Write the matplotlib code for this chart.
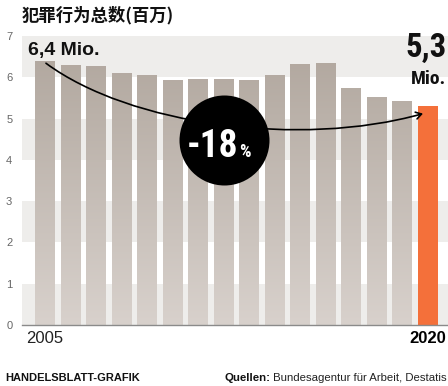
import numpy as np
import matplotlib
matplotlib.use("Agg")
import matplotlib.pyplot as plt
from matplotlib.path import Path
from matplotlib.patches import FancyArrowPatch
from matplotlib.colors import LinearSegmentedColormap

# ---- data ----
years = list(range(2005, 2021))
values = [6.39, 6.30, 6.28, 6.11, 6.05, 5.93, 5.97, 5.97, 5.94, 6.05, 6.31, 6.35, 5.73, 5.53, 5.42, 5.30]
yticks = [0, 1, 2, 3, 4, 5, 6, 7]
xlabels = ["2005", "2020"]
title = "犯罪行为总数(百万)"
start_label = "6,4 Mio."
end_value = "5,3"
end_unit = "Mio."
change_label = "-18"
source_bold = "Quellen:"
source_text = " Bundesagentur für Arbeit, Destatis"
brand = "HANDELSBLATT-GRAFIK"

W, H = 448, 386
fig = plt.figure(figsize=(W / 100, H / 100), dpi=100)
fig.patch.set_facecolor("white")

def fx(px):
    return px / W

def fy(py):
    return 1 - py / H

ax = fig.add_axes([fx(22), fy(325), fx(448) - fx(22), fy(36) - fy(325)])
ax.set_facecolor("white")

for lo in [0, 2, 4, 6]:
    ax.axhspan(lo, lo + 1, color="#eeedeb", lw=0, zorder=0)

x = np.arange(len(years))
colors = ["#c3bbb4"] * (len(years) - 1) + ["#f4703a"]
bars = ax.bar(x, values, width=0.78, color=colors, lw=0, zorder=2)

cmap = LinearSegmentedColormap.from_list("g", ["#d8d1cc", "#afa59c"])
grad = np.linspace(0, 1, 256).reshape(-1, 1)
for b in bars[:-1]:
    x0 = b.get_x()
    im = ax.imshow(grad, extent=[x0, x0 + b.get_width(), 0, 7], origin="lower",
                   aspect="auto", cmap=cmap, zorder=2.5, interpolation="bilinear")
    im.set_clip_path(b)
ax.set_xlim(-0.9, 15.8)
ax.set_ylim(0, 7)

ax.axhline(0, color="#8a8a8a", lw=1.0, zorder=4, clip_on=False)

for s in ax.spines.values():
    s.set_visible(False)

ax.set_yticks(yticks)
ax.set_yticklabels([str(t) for t in yticks], fontsize=8, color="#666666",
                   family=["Liberation Sans", "DejaVu Sans"])
ax.tick_params(axis="y", length=0, pad=7)
ax.set_xticks([0, 15])
ax.set_xticklabels(xlabels, fontsize=12, color="#222222",
                   family=["Liberation Sans", "DejaVu Sans"])
ax.get_xticklabels()[1].set_fontweight("bold")
ax.get_xticklabels()[1].set_color("#000000")
ax.tick_params(axis="x", length=0, pad=4)

# curved arrow from first to last bar
verts = [(0.04, values[0] - 0.05), (3.33, 4.84), (10.0, 4.29), (14.82, values[-1] - 0.18)]
path = Path(verts, [Path.MOVETO, Path.CURVE4, Path.CURVE4, Path.CURVE4])
arr = FancyArrowPatch(path=path, arrowstyle="->,head_length=4,head_width=2.5",
                      color="black", lw=1.2, zorder=5)
ax.add_patch(arr)

# black circle
ax.scatter([7.0], [4.48], s=(90 * 0.72) ** 2, color="black", zorder=6, lw=0)

cond = dict(family=["Roboto Condensed", "DejaVu Sans"], stretch="condensed", fontweight="bold")
fig.text(fx(238), fy(157), change_label, fontsize=27, color="white",
         ha="right", va="baseline", zorder=10, **cond)
fig.text(fx(239), fy(157), "%", fontsize=13, color="white",
         ha="left", va="baseline", zorder=10, **cond)

fig.text(fx(22), fy(20), title, fontsize=12.5, fontweight="bold", color="#111111",
         ha="left", va="baseline", family=["Noto Sans CJK SC", "DejaVu Sans"])

fig.text(fx(28), fy(55), start_label, fontsize=14, fontweight="bold", color="#111111",
         ha="left", va="baseline", family=["Liberation Sans", "DejaVu Sans"])

fig.text(fx(447), fy(57), end_value, fontsize=23.5, color="#111111",
         ha="right", va="baseline", **cond)
fig.text(fx(446), fy(84), end_unit, fontsize=14, color="#111111",
         ha="right", va="baseline", **cond)

fig.text(fx(5), fy(381), brand, fontsize=8, fontweight="bold", color="#111111",
         ha="left", va="baseline", family=["Liberation Sans", "DejaVu Sans"])
t1 = fig.text(fx(224), fy(381), source_bold, fontsize=8.2, fontweight="bold", color="#111111",
              ha="left", va="baseline", family=["Liberation Sans", "DejaVu Sans"])
fig.canvas.draw()
bb = t1.get_window_extent()
fig.text(bb.x1 / W, fy(381), source_text, fontsize=8.2, color="#222222",
         ha="left", va="baseline", family=["Liberation Sans", "DejaVu Sans"])

fig.savefig("out.png", dpi=100, facecolor="white")
